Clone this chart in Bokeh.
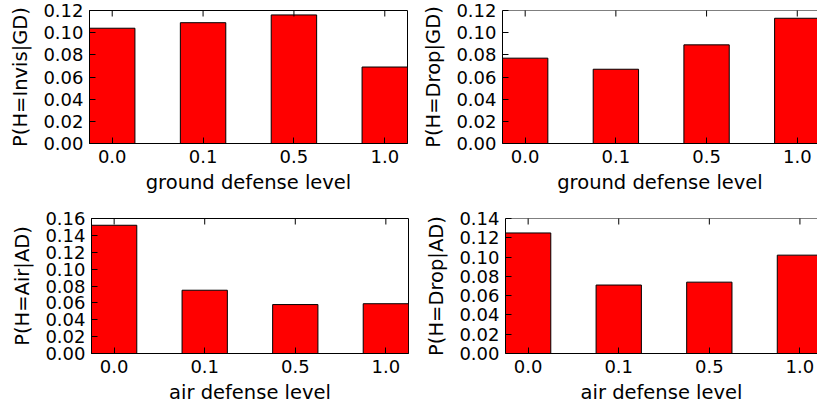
import math
from bokeh.plotting import figure
from bokeh.layouts import row, column
from bokeh.models import (LinearAxis, FixedTicker, NumeralTickFormatter,
                          Range1d, Span)
from bokeh.embed import file_html
from bokeh.resources import INLINE

# ---- data ----
levels = ["0.0", "0.1", "0.5", "1.0"]
p_invis_gd = [0.104, 0.109, 0.116, 0.069]
p_drop_gd = [0.077, 0.067, 0.089, 0.113]
p_air_ad = [0.152, 0.075, 0.058, 0.059]
p_drop_ad = [0.125, 0.071, 0.074, 0.102]
ymax_invis_gd = 0.12
ymax_drop_gd = 0.12
ymax_air_ad = 0.16
ymax_drop_ad = 0.14
ytick_step = 0.02

FONT = "DejaVu Sans"
TICK_FS = "18px"
LABEL_FS = "19.5px"


def style_axis(ax):
    ax.axis_line_color = "black"
    ax.axis_line_width = 1
    ax.major_tick_line_color = "black"
    ax.major_tick_line_width = 1
    ax.major_tick_in = 6
    ax.major_tick_out = 0
    ax.minor_tick_line_color = None
    ax.major_label_text_font = FONT
    ax.major_label_text_color = "black"
    ax.major_label_text_font_size = TICK_FS
    ax.axis_label_text_font = FONT
    ax.axis_label_text_font_style = "normal"
    ax.axis_label_text_color = "black"
    ax.axis_label_text_font_size = LABEL_FS


def make(vals, ymax, ylabel, xlabel, w, h, bl, br, bt, bb, xend, full_frame):
    p = figure(width=w, height=h, output_backend="svg", toolbar_location=None,
               x_range=Range1d(-0.25, xend), y_range=Range1d(0, ymax),
               x_axis_location=None, y_axis_location=None,
               min_border_left=bl, min_border_right=br,
               min_border_top=bt, min_border_bottom=bb)
    p.grid.visible = False
    p.background_fill_color = "white"
    p.border_fill_color = "white"
    if full_frame:
        p.outline_line_color = "black"
        p.outline_line_width = 1
        p.outline_line_alpha = 1
    else:
        p.outline_line_color = None
        p.add_layout(Span(location=ymax, dimension="width",
                          line_color="black", line_width=1))

    xs = list(range(len(levels)))
    yticks = [round(ytick_step * i, 2) for i in range(int(round(ymax / ytick_step)) + 1)]

    p.vbar(x=xs, top=vals, bottom=0, width=0.5,
           fill_color="#ff0000", line_color="black", line_width=1)

    # inward ticks on the top edge (and on the right edge when it is visible)
    p.scatter(x=xs, y=[ymax] * len(xs), marker="dash", angle=math.pi / 2,
              size=12, line_color="black", line_width=1)
    if full_frame:
        p.scatter(x=[-0.25 + len(levels)] * len(yticks), y=yticks, marker="dash",
                  size=12, line_color="black", line_width=1)

    bx = LinearAxis(ticker=FixedTicker(ticks=xs), axis_label=xlabel)
    bx.major_label_overrides = {i: lab for i, lab in enumerate(levels)}
    style_axis(bx)
    bx.major_label_standoff = 6
    bx.axis_label_standoff = 5
    p.add_layout(bx, "below")

    ly = LinearAxis(ticker=FixedTicker(ticks=yticks), axis_label=ylabel,
                    formatter=NumeralTickFormatter(format="0.00"))
    style_axis(ly)
    ly.major_label_standoff = 6
    ly.axis_label_standoff = 8
    p.add_layout(ly, "left")
    return p


tl = make(p_invis_gd, ymax_invis_gd, "P(H=Invis|GD)", "ground defense level",
          410, 205, 89, 3, 10, 62, 3.25, True)
tr = make(p_drop_gd, ymax_drop_gd, "P(H=Drop|GD)", "ground defense level",
          407, 205, 92, 0, 10, 62, 3.223, False)
bl = make(p_air_ad, ymax_air_ad, "P(H=Air|AD)", "air defense level",
          410, 204, 91, 2, 12, 56, 3.25, True)
br = make(p_drop_ad, ymax_drop_ad, "P(H=Drop|AD)", "air defense level",
          407, 204, 95, 0, 13, 56, 3.194, False)

layout = column(row(tl, tr), row(bl, br))
open("out.html", "w").write(file_html(layout, INLINE))
